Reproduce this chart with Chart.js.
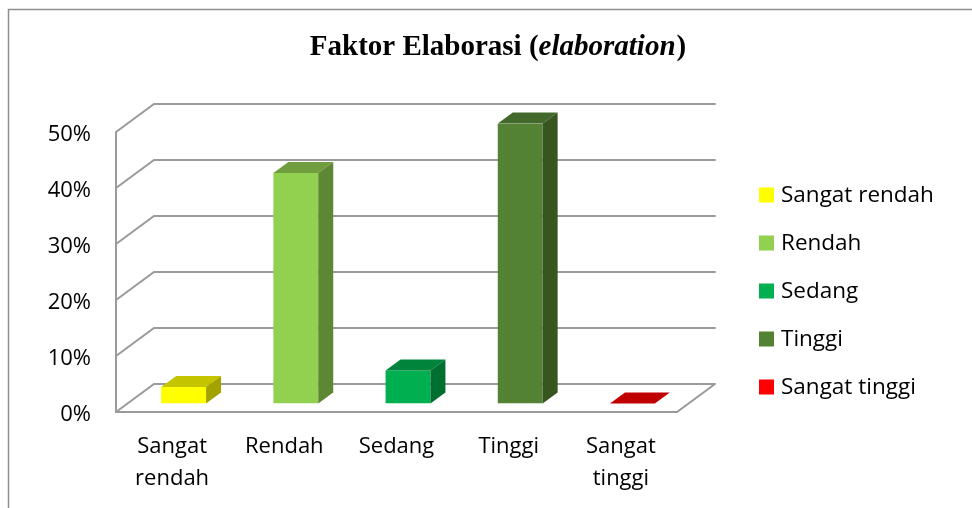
<!DOCTYPE html>
<html><head><meta charset="utf-8">
<script src="https://cdn.jsdelivr.net/npm/chart.js@4/dist/chart.umd.min.js"></script>
<style>html,body{margin:0;padding:0;background:#fff;} canvas{display:block;}</style>
</head><body>
<canvas id="c" width="972" height="508"></canvas>
<script>
// ---- data ----
const titleMain = 'Faktor Elaborasi (';
const titleItalic = 'elaboration';
const titleEnd = ')';
const categories = [['Sangat','rendah'], 'Rendah', 'Sedang', 'Tinggi', ['Sangat','tinggi']];
const legendLabels = ['Sangat rendah', 'Rendah', 'Sedang', 'Tinggi', 'Sangat tinggi'];
const values = [2.94, 41.18, 5.88, 50.0, 0];
const yTickStep = 10;
const yMax = 50;
// ---- styles ----
const frontColors = ['#FFFF00', '#92D050', '#00B050', '#548235', '#C00000'];
const topColors   = ['#C4C400', '#709E3E', '#00843B', '#43682B', '#C00000'];
const sideColors  = ['#A3A300', '#5E8733', '#006F2F', '#37561F', '#9A0000'];
const legendColors = ['#FFFF00', '#92D050', '#00B050', '#548235', '#FF0000'];
const LABEL_FONT = {family: '"Open Sans", sans-serif', size: 22};
const LEGEND_FONT_SIZE = 22.5;
const WALL = {dx: 38, dy: -28};
const BAR_SHIFT = {dx: 11.5, dy: -8.5};
const BAR_DEPTH = {dx: 15, dy: -11};
const GRID_COLOR = '#9a9a9a';

const frame3d = {
  id: 'frame3d',
  beforeDraw(chart) {
    const ctx = chart.ctx;
    ctx.save();
    ctx.fillStyle = '#fff';
    ctx.fillRect(0, 0, chart.width, chart.height);
    // outer border of the original chart box
    ctx.strokeStyle = '#8f8f8f';
    ctx.lineWidth = 1.5;
    ctx.beginPath();
    ctx.moveTo(8.5, chart.height); ctx.lineTo(8.5, 9.5); ctx.lineTo(chart.width, 9.5);
    ctx.stroke();
    // title (bold, with italic word)
    const cx = 498, cy = 48;
    const fB = 'bold 29px "Liberation Serif", "Times New Roman", serif';
    const fI = 'italic bold 29px "Liberation Serif", "Times New Roman", serif';
    ctx.font = fB; const w1 = ctx.measureText(titleMain).width; const w3 = ctx.measureText(titleEnd).width;
    ctx.font = fI; const w2 = ctx.measureText(titleItalic).width;
    let x = cx - (w1 + w2 + w3 + 1) / 2;
    ctx.fillStyle = '#000'; ctx.textBaseline = 'middle'; ctx.textAlign = 'left';
    ctx.font = fB; ctx.fillText(titleMain, x, cy); x += w1;
    ctx.font = fI; ctx.fillText(titleItalic, x, cy); x += w2 + 1;
    ctx.font = fB; ctx.fillText(titleEnd, x, cy);
    // legend
    ctx.font = `${LEGEND_FONT_SIZE}px ${LABEL_FONT.family}`;
    legendLabels.forEach((lab, i) => {
      const yc = 195 + i * 48;
      ctx.fillStyle = legendColors[i];
      ctx.fillRect(759, yc - 7.5, 15, 15);
      ctx.fillStyle = '#000';
      ctx.fillText(lab, 781, yc + 1);
    });
    ctx.restore();
  },
  beforeDatasetsDraw(chart) {
    const ctx = chart.ctx;
    const {left, right} = chart.chartArea;
    const y = chart.scales.y;
    ctx.save();
    ctx.strokeStyle = GRID_COLOR;
    ctx.lineWidth = 2;
    ctx.lineCap = 'round';
    ctx.beginPath();
    for (let v = 0; v <= yMax; v += yTickStep) {
      const py = y.getPixelForValue(v);
      ctx.moveTo(left, py); ctx.lineTo(left + WALL.dx, py + WALL.dy);
      ctx.lineTo(right + WALL.dx, py + WALL.dy);
    }
    const y0 = y.getPixelForValue(0), yT = y.getPixelForValue(yMax);
    ctx.moveTo(left, yT); ctx.lineTo(left, y0); ctx.lineTo(right, y0);
    ctx.lineTo(right + WALL.dx, y0 + WALL.dy);
    ctx.stroke();
    ctx.restore();
    ctx.save();
    ctx.translate(BAR_SHIFT.dx, BAR_SHIFT.dy);
  },
  afterDatasetsDraw(chart) {
    const ctx = chart.ctx;
    const meta = chart.getDatasetMeta(0);
    meta.data.forEach((bar, i) => {
      const p = bar.getProps(['x', 'y', 'base', 'width'], true);
      const l = p.x - p.width / 2, r = p.x + p.width / 2;
      const t = Math.min(p.y, p.base), b = Math.max(p.y, p.base);
      ctx.fillStyle = topColors[i];
      ctx.beginPath();
      ctx.moveTo(l, t); ctx.lineTo(l + BAR_DEPTH.dx, t + BAR_DEPTH.dy);
      ctx.lineTo(r + BAR_DEPTH.dx, t + BAR_DEPTH.dy); ctx.lineTo(r, t); ctx.closePath();
      ctx.fill();
      if (b - t > 0.5) {
        ctx.fillStyle = sideColors[i];
        ctx.beginPath();
        ctx.moveTo(r, t); ctx.lineTo(r + BAR_DEPTH.dx, t + BAR_DEPTH.dy);
        ctx.lineTo(r + BAR_DEPTH.dx, b + BAR_DEPTH.dy); ctx.lineTo(r, b); ctx.closePath();
        ctx.fill();
      }
    });
    ctx.restore();
  }
};

new Chart(document.getElementById('c'), {
  type: 'bar',
  data: {
    labels: categories,
    datasets: [{
      data: values,
      backgroundColor: frontColors,
      borderWidth: 0,
      barPercentage: 0.4,
      categoryPercentage: 1.0
    }]
  },
  options: {
    responsive: false,
    animation: false,
    devicePixelRatio: 1,
    layout: {padding: {top: 132, right: 295, left: 0, bottom: 0}},
    plugins: {legend: {display: false}, title: {display: false}, tooltip: {enabled: false}},
    scales: {
      x: {
        grid: {display: false}, border: {display: false},
        ticks: {font: {...LABEL_FONT, lineHeight: 1.45}, color: '#000', padding: 11, maxRotation: 0, autoSkip: false},
        afterFit(s) { s.height = 96; }
      },
      y: {
        min: 0, max: yMax,
        grid: {display: false, drawTicks: false}, border: {display: false},
        ticks: {stepSize: yTickStep, font: LABEL_FONT, color: '#000', padding: 25, labelOffset: 3, callback: v => v + '%'},
        afterFit(s) { s.width = 116; }
      }
    }
  },
  plugins: [frame3d]
});
</script>
</body></html>
